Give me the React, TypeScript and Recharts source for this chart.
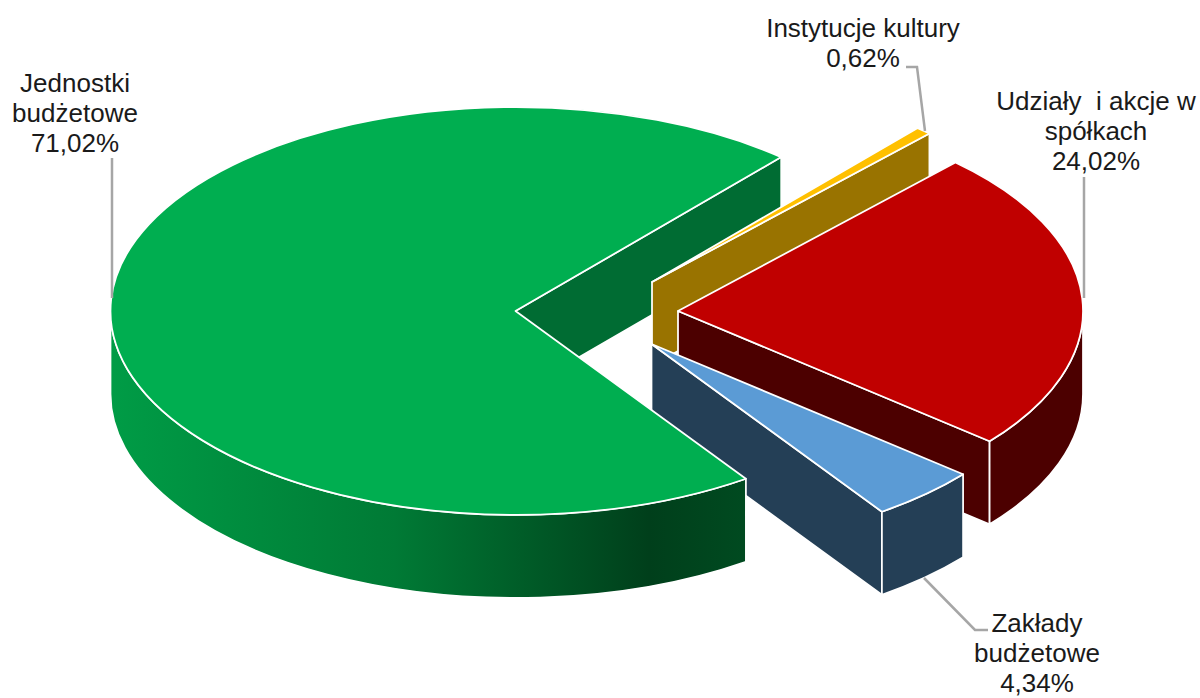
import React from "react";
import { PieChart, Pie } from "recharts";

const names = ["Instytucje kultury", "Udziały i akcje w spółkach", "Zakłady budżetowe", "Jednostki budżetowe"];
const shares = [0.62, 24.02, 4.34, 71.02];
const data = names.map((name, i) => ({ name, value: shares[i] }));

const FONT = "'Liberation Sans', Arial, sans-serif";
const CX = 515.5;
const CY = 311;
const RX = 405;
const TILT = 0.5035;
const DEPTH = 83;

interface SliceLook {
  top: string;
  wall: string;
  arc: string;
  dx: number;
  dy: number;
}

const looks: Record<string, SliceLook> = {
  "Instytucje kultury": { top: "#FFC000", wall: "#997300", arc: "#997300", dx: 136.5, dy: -29 },
  "Udziały i akcje w spółkach": { top: "#C00000", wall: "#4C0000", arc: "#4C0000", dx: 162.5, dy: 0 },
  "Zakłady budżetowe": { top: "#5B9BD5", wall: "#243F56", arc: "#243F56", dx: 136, dy: 33 },
  "Jednostki budżetowe": { top: "#00AE50", wall: "#006C33", arc: "url(#greenWall)", dx: 0, dy: 0 },
};

interface LabelSpot {
  lines: string[];
  x: number;
  y: number;
  leader: string;
}

const labelSpots: Record<string, LabelSpot> = {
  "Instytucje kultury": { lines: ["Instytucje kultury"], x: 863, y: 37, leader: "906,67 917,67 925,131" },
  "Udziały i akcje w spółkach": { lines: ["Udziały\u00A0 i akcje w", "spółkach"], x: 1096, y: 110, leader: "1084,177 1084,298" },
  "Zakłady budżetowe": { lines: ["Zakłady", "budżetowe"], x: 1037, y: 632, leader: "924,578 975,630 988,630" },
  "Jednostki budżetowe": { lines: ["Jednostki", "budżetowe"], x: 75, y: 92, leader: "112,158 112,298" },
};

const point = (look: SliceLook, angle: number, drop = 0) => {
  const rad = (angle * Math.PI) / 180;
  const x = CX + look.dx + RX * Math.cos(rad);
  const y = CY + look.dy - RX * TILT * Math.sin(rad) + drop;
  return `${x.toFixed(2)} ${y.toFixed(2)}`;
};

const apex = (look: SliceLook, drop = 0) => `${CX + look.dx} ${CY + look.dy + drop}`;

const edgeWall = (look: SliceLook, angle: number) =>
  `M${apex(look)} L${point(look, angle)} L${point(look, angle, DEPTH)} L${apex(look, DEPTH)} Z`;

function arcWalls(look: SliceLook, from: number, to: number) {
  const ry = RX * TILT;
  const paths: string[] = [];
  [[180, 360], [540, 720]].forEach(([lo, hi]) => {
    const a = Math.max(from, lo);
    const b = Math.min(to, hi);
    if (b <= a) return;
    const big = b - a > 180 ? 1 : 0;
    paths.push(
      `M${point(look, a)} A${RX} ${ry} 0 ${big} 0 ${point(look, b)} L${point(look, b, DEPTH)} A${RX} ${ry} 0 ${big} 1 ${point(look, a, DEPTH)} Z`
    );
  });
  return paths;
}

// the wall of the big slice sits behind the exploded ones, so it gets its own pass
function BackWall(props: any) {
  const look = looks[props.name];
  if (props.name !== "Jednostki budżetowe") return <g />;
  const from = Math.min(props.startAngle, props.endAngle);
  return <path d={edgeWall(look, from)} fill={look.wall} stroke="#fff" strokeWidth={1.75} strokeLinejoin="round" />;
}

function Slice3D(props: any) {
  const look = looks[props.name];
  const from = Math.min(props.startAngle, props.endAngle);
  const to = Math.max(props.startAngle, props.endAngle);
  const big = to - from > 180 ? 1 : 0;
  const stroke = { stroke: "#fff", strokeWidth: 1.75, strokeLinejoin: "round" as const };
  const isBig = props.name === "Jednostki budżetowe";
  const showFrom = !isBig && Math.cos((from * Math.PI) / 180) > 0;
  const showTo = Math.cos((to * Math.PI) / 180) < 0;
  return (
    <g>
      {showFrom && <path d={edgeWall(look, from)} fill={look.wall} {...stroke} />}
      {showTo && <path d={edgeWall(look, to)} fill={look.wall} {...stroke} />}
      {arcWalls(look, from, to).map((d) => (
        <path key={d} d={d} fill={look.arc} {...stroke} />
      ))}
      <path
        d={`M${apex(look)} L${point(look, from)} A${RX} ${RX * TILT} 0 ${big} 0 ${point(look, to)} Z`}
        fill={look.top}
        {...stroke}
      />
    </g>
  );
}

function SliceLabel(props: any) {
  const spot = labelSpots[props.name];
  const rows = [...spot.lines, `${props.value.toFixed(2).replace(".", ",")}%`];
  return (
    <g>
      <polyline points={spot.leader} fill="none" stroke="#A6A6A6" strokeWidth={2.5} />
      <text x={spot.x} y={spot.y} textAnchor="middle" fontFamily={FONT} fontSize={26} fill="#1a1a1a">
        {rows.map((row, i) => (
          <tspan key={row} x={spot.x} dy={i === 0 ? 0 : 30}>
            {row}
          </tspan>
        ))}
      </text>
    </g>
  );
}

export default function App() {
  return (
    <div style={{ position: "absolute", left: 0, top: 0, width: 1200, height: 698, background: "#fff" }}>
      <PieChart width={1200} height={698} margin={{ top: 0, right: 0, bottom: 0, left: 0 }}>
        <defs>
          <linearGradient id="greenWall" gradientUnits="userSpaceOnUse" x1={110} y1={0} x2={744} y2={0}>
            <stop offset="0" stopColor="#009C46" />
            <stop offset="0.45" stopColor="#007A35" />
            <stop offset="0.85" stopColor="#003F1B" />
            <stop offset="1" stopColor="#004A20" />
          </linearGradient>
        </defs>
        <Pie
          data={data}
          dataKey="value"
          nameKey="name"
          cx={CX}
          cy={CY}
          outerRadius={RX}
          startAngle={409}
          endAngle={49}
          shape={BackWall}
          labelLine={false}
          isAnimationActive={false}
        />
        <Pie
          data={data}
          dataKey="value"
          nameKey="name"
          cx={CX}
          cy={CY}
          outerRadius={RX}
          startAngle={409}
          endAngle={49}
          shape={Slice3D}
          label={SliceLabel}
          labelLine={false}
          isAnimationActive={false}
        />
      </PieChart>
    </div>
  );
}
